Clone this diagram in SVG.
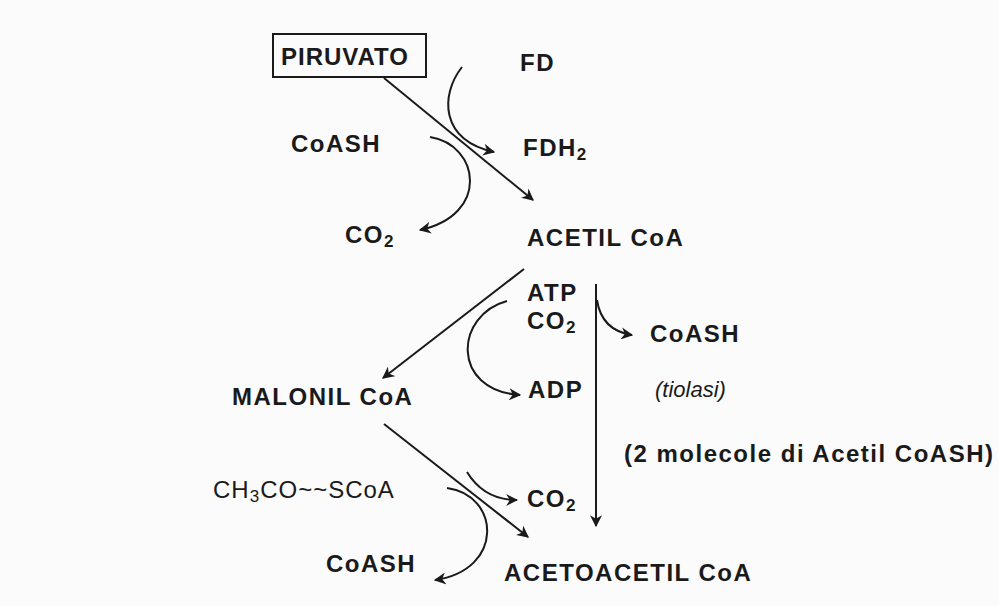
<svg xmlns="http://www.w3.org/2000/svg" width="999" height="606" viewBox="0 0 999 606">
<style>
text{font-family:"Liberation Sans",Arial,sans-serif;font-size:24px;font-weight:bold;fill:#1a1a1a;letter-spacing:1.5px}
.c{fill:none;stroke:#1a1a1a;stroke-width:2}
.s{font-size:17px}
</style>
<defs><marker id="a" viewBox="0 0 10 10" refX="9" refY="5" markerWidth="12" markerHeight="12" markerUnits="userSpaceOnUse" orient="auto"><path d="M0,0 L10,5 L0,10 L3,5 Z" fill="#1a1a1a"/></marker></defs>
<rect width="999" height="606" fill="#fbfbfb"/>
<g id="piruvato"><rect x="273" y="34" width="153" height="43" fill="none" stroke="#1a1a1a" stroke-width="2"/><text x="281" y="65" style="letter-spacing:1px">PIRUVATO</text></g>
<g id="fd"><text x="520" y="71">FD</text></g>
<g id="fdh2"><text x="523" y="156">FDH<tspan class="s" dy="4">2</tspan></text></g>
<g id="coash1"><text x="291" y="152">CoASH</text></g>
<g id="co2a"><text x="345" y="243">CO<tspan class="s" dy="4">2</tspan></text></g>
<g id="acetil"><text x="527" y="246">ACETIL CoA</text></g>
<g id="atp"><text x="527" y="301">ATP</text><text x="527" y="329">CO<tspan class="s" dy="4">2</tspan></text></g>
<g id="adp"><text x="528" y="398">ADP</text></g>
<g id="coash2"><text x="650" y="342">CoASH</text></g>
<g id="tiolasi"><text x="655" y="397" style="font-weight:normal;font-style:italic;font-size:22px;letter-spacing:0">(tiolasi)</text></g>
<g id="molecole"><text x="624" y="462">(2 molecole di Acetil CoASH)</text></g>
<g id="malonil"><text x="232" y="405">MALONIL CoA</text></g>
<g id="ch3co"><text x="213" y="498" style="font-weight:normal;letter-spacing:1px">CH<tspan class="s" dy="4">3</tspan><tspan dy="-4">CO~~SCoA</tspan></text></g>
<g id="co2b"><text x="527" y="507">CO<tspan class="s" dy="4">2</tspan></text></g>
<g id="coash3"><text x="326" y="572">CoASH</text></g>
<g id="acetoacetil"><text x="504" y="581">ACETOACETIL CoA</text></g>
<g id="connectors">
<path class="c" marker-end="url(#a)" d="M384,78 L533,200"/>
<path class="c" marker-end="url(#a)" d="M462,67 C440,95 440,140 494,152"/>
<path class="c" marker-end="url(#a)" d="M430,137 C480,145 490,215 420,230"/>
<path class="c" marker-end="url(#a)" d="M524,269 L383,378"/>
<path class="c" marker-end="url(#a)" d="M507,301 C455,315 450,390 520,395"/>
<path class="c" marker-end="url(#a)" d="M596,284 L596,526"/>
<path class="c" marker-end="url(#a)" d="M597,300 C600,320 612,332 632,335"/>
<path class="c" marker-end="url(#a)" d="M384,424 L528,537"/>
<path class="c" marker-end="url(#a)" d="M467,472 C478,490 495,500 517,500"/>
<path class="c" marker-end="url(#a)" d="M447,488 C500,495 505,570 435,580"/>
</g>
</svg>
